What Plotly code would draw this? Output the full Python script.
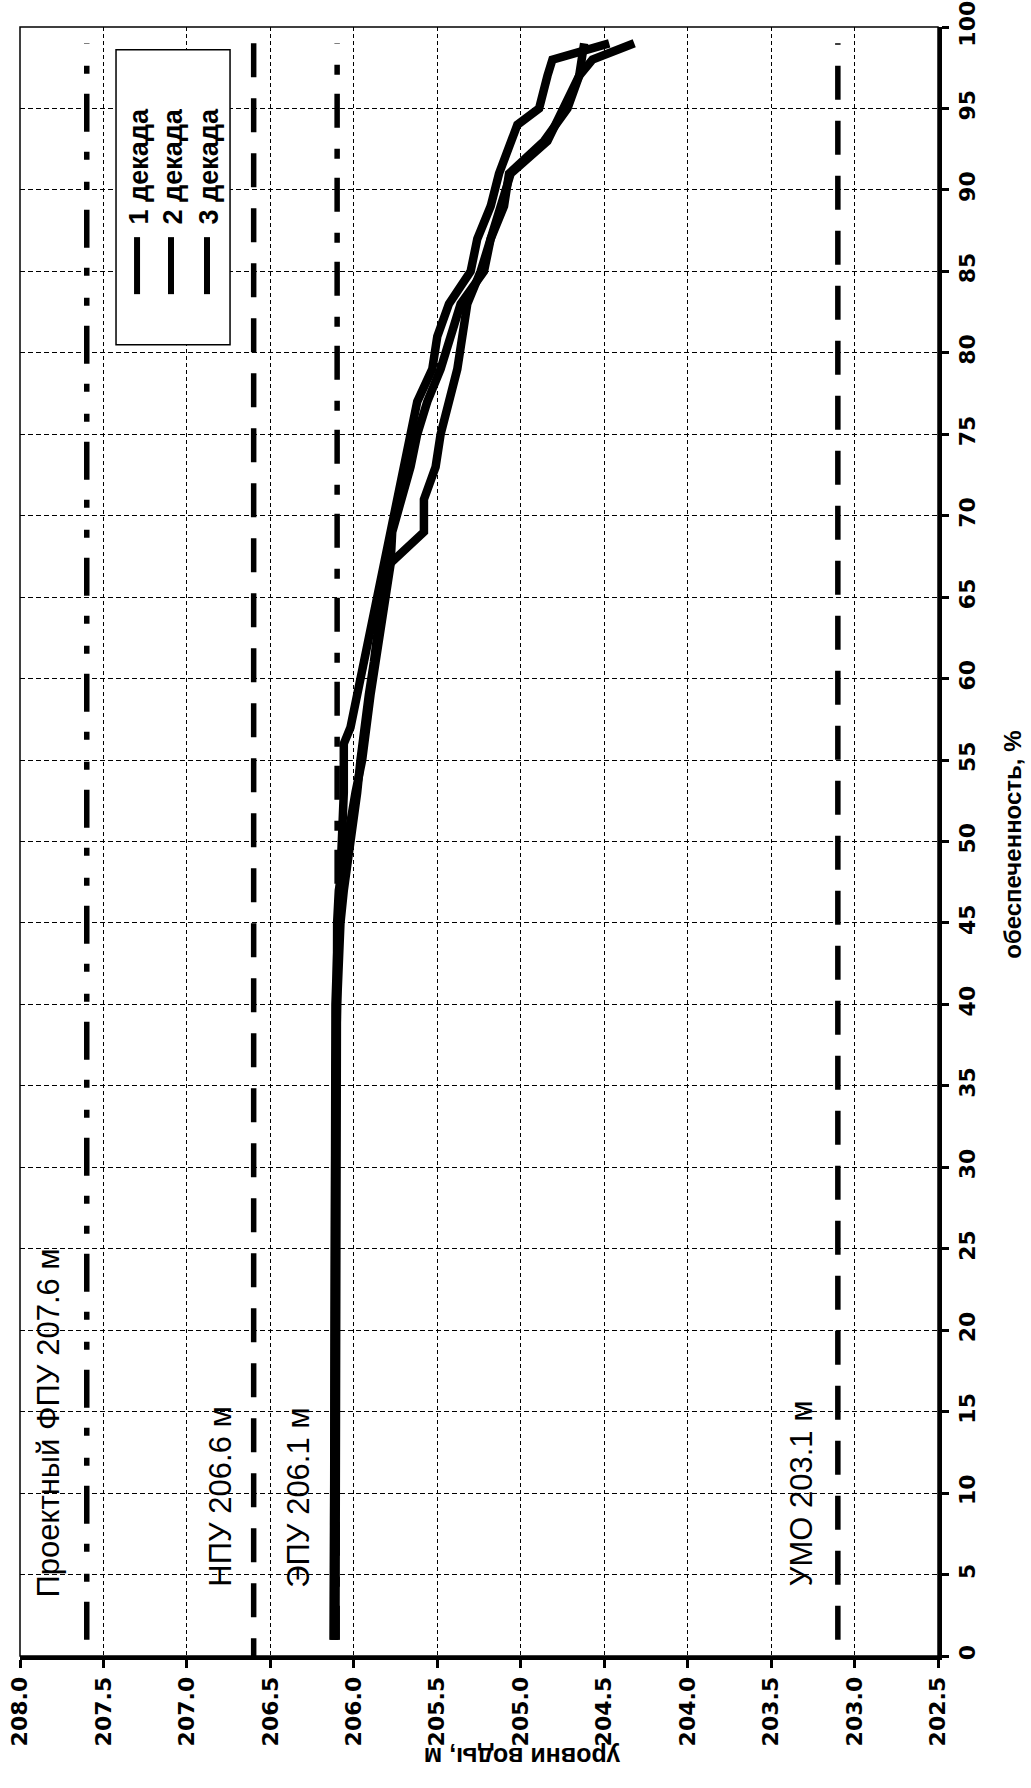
import plotly.graph_objects as go

# обеспеченность, % / уровни воды, м  (3 декады)
p_dek1 = [1, 5, 10, 15, 20, 25, 30, 35, 40, 43, 45, 47, 49, 51, 53, 55, 57, 59, 61, 63, 65, 67, 69, 71, 73,
          75, 77, 79, 81, 83, 85, 87, 89, 91, 93, 95, 97, 98, 99]
lvl_dek1 = [206.12, 206.12, 206.12, 206.12, 206.12, 206.12, 206.11, 206.11, 206.10, 206.09, 206.08, 206.06,
            206.03, 206.01, 205.98, 205.96, 205.94, 205.91, 205.88, 205.86, 205.83, 205.79, 205.58, 205.58,
            205.51, 205.48, 205.43, 205.38, 205.35, 205.32, 205.24, 205.18, 205.12, 205.06, 204.84, 204.75,
            204.65, 204.57, 204.32]

p_dek2 = [1, 5, 10, 15, 20, 25, 30, 35, 40, 43, 45, 47, 49, 51, 53, 55, 56, 57, 59, 61, 63, 65, 67, 69, 71,
          73, 75, 77, 79, 81, 83, 85, 87, 89, 91, 93, 94, 95, 96, 97, 98, 99]
lvl_dek2 = [206.12, 206.12, 206.12, 206.12, 206.12, 206.12, 206.12, 206.11, 206.11, 206.10, 206.09, 206.08,
            206.07, 206.07, 206.06, 206.06, 206.06, 206.02, 205.98, 205.94, 205.90, 205.86, 205.82, 205.79,
            205.74, 205.70, 205.66, 205.62, 205.53, 205.50, 205.43, 205.30, 205.26, 205.18, 205.13, 205.06,
            205.02, 204.89, 204.87, 204.84, 204.81, 204.47]

p_dek3 = [1, 5, 10, 15, 20, 25, 30, 35, 40, 43, 45, 47, 49, 51, 53, 55, 57, 59, 61, 63, 65, 67, 69, 71, 73,
          75, 77, 79, 81, 83, 85, 87, 89, 91, 93, 95, 97, 99]
lvl_dek3 = [206.11, 206.11, 206.11, 206.11, 206.11, 206.11, 206.11, 206.11, 206.10, 206.10, 206.10, 206.09,
            206.06, 206.02, 205.99, 205.95, 205.93, 205.90, 205.87, 205.84, 205.80, 205.78, 205.77, 205.71,
            205.66, 205.62, 205.56, 205.48, 205.42, 205.36, 205.22, 205.18, 205.10, 205.07, 204.86, 204.72,
            204.65, 204.62]

series_names = ['1 декада', '2 декада', '3 декада']

# характерные уровни
ref_names = ['Проектный ФПУ 207.6 м', 'НПУ 206.6 м', 'ЭПУ 206.1 м', 'УМО 203.1 м']
ref_levels = [207.6, 206.6, 206.1, 203.1]
ref_p_from = [1, -1, 1, 1]
ref_p_to = [99, 101, 99, 99]

x_ticks = [208.0, 207.5, 207.0, 206.5, 206.0, 205.5, 205.0, 204.5, 204.0, 203.5, 203.0, 202.5]
y_ticks = list(range(0, 101, 5))

FONT = 'Liberation Sans, Arial, sans-serif'
WIDE = 'DejaVu Sans, Verdana, sans-serif'

ref_dash = ['38px,20px,8px,22px,8px,20px', '34px,21px', '34px,19px,10px,21px', '34px,21px']
ref_text_pos = [(207.83, 14.3), (206.8, 9.8), (206.33, 9.7), (203.32, 10.0)]

fig = go.Figure()

for lvl, a, b, dash in zip(ref_levels, ref_p_from, ref_p_to, ref_dash):
    fig.add_trace(go.Scatter(x=[lvl, lvl], y=[a, b], mode='lines',
                             line=dict(color='black', width=5.5, dash=dash), hoverinfo='skip'))

for name, p, lv in zip(series_names, [p_dek1, p_dek2, p_dek3], [lvl_dek1, lvl_dek2, lvl_dek3]):
    fig.add_trace(go.Scatter(x=lv, y=p, mode='lines', name=name,
                             line=dict(color='black', width=8.5)))

for name, (tx, ty) in zip(ref_names, ref_text_pos):
    fig.add_annotation(x=tx, y=ty, xref='x', yref='y', text=name, showarrow=False, textangle=-90,
                       xanchor='center', yanchor='middle', font=dict(family=FONT, size=31, color='black'))

fig.update_layout(
    width=1031, height=1788,
    margin=dict(l=20, r=93, t=27, b=132, autoexpand=False),
    plot_bgcolor='white', paper_bgcolor='white',
    showlegend=False,
    font=dict(family=FONT, color='black'),
)

fig.update_xaxes(
    range=[208, 202.5], tickvals=x_ticks, ticktext=['%.1f' % v for v in x_ticks], automargin=False,
    tickangle=-90, tickfont=dict(family=WIDE, size=22, weight='bold'),
    showgrid=True, gridcolor='black', gridwidth=1, griddash='4px,3px',
    showline=True, linecolor='black', linewidth=4,
    ticks='outside', ticklen=8, tickwidth=2.5, tickcolor='black', zeroline=False,
)
fig.update_yaxes(
    range=[0, 100], tickvals=y_ticks, side='right', automargin=False,
    tickangle=-90, tickfont=dict(family=WIDE, size=22, weight='bold'),
    showgrid=True, gridcolor='black', gridwidth=1.3, griddash='5px,3px',
    showline=True, linecolor='black', linewidth=3.5,
    ticks='outside', ticklen=7, tickwidth=2.5, tickcolor='black', zeroline=False,
)

# рамка области построения
fig.add_shape(type='rect', xref='paper', yref='paper', x0=0, x1=1, y0=0, y1=1,
              line=dict(color='black', width=1.5), layer='above')

# подписи осей
fig.add_annotation(x=1.0817, y=0.498, xref='paper', yref='paper', text='<b>обеспеченность, %</b>',
                   xanchor='center', yanchor='middle',
                   showarrow=False, textangle=-90, font=dict(family=FONT, size=24, color='black'))
fig.add_annotation(x=0.547, y=-0.062, xref='paper', yref='paper', text='<b>уровни воды, м</b>',
                   xanchor='center', yanchor='middle',
                   showarrow=False, textangle=180, font=dict(family=FONT, size=25, color='black'))

# легенда (повернутая)
fig.add_shape(type='rect', xref='paper', yref='paper', x0=0.1046, x1=0.2288, y0=0.805, y1=0.986,
              line=dict(color='black', width=1.5), fillcolor='white', layer='above')
leg_x_line = [0.1275, 0.1645, 0.2037]
leg_x_text = [0.1296, 0.1667, 0.2059]
for name, xl, xt in zip(series_names, leg_x_line, leg_x_text):
    fig.add_shape(type='line', xref='paper', yref='paper', x0=xl, x1=xl, y0=0.871, y1=0.836,
                  line=dict(color='black', width=6), layer='above')
    fig.add_annotation(x=xt, y=0.9144, xref='paper', yref='paper', text='<b>%s</b>' % name,
                       xanchor='center', yanchor='middle',
                       showarrow=False, textangle=-90, font=dict(family=FONT, size=27, color='black'))

# убрать отступ body, чтобы рисунок встал в окно точно
fig.write_html("out.html", config={'displayModeBar': False},
               post_script="document.body.style.margin='0px';")
